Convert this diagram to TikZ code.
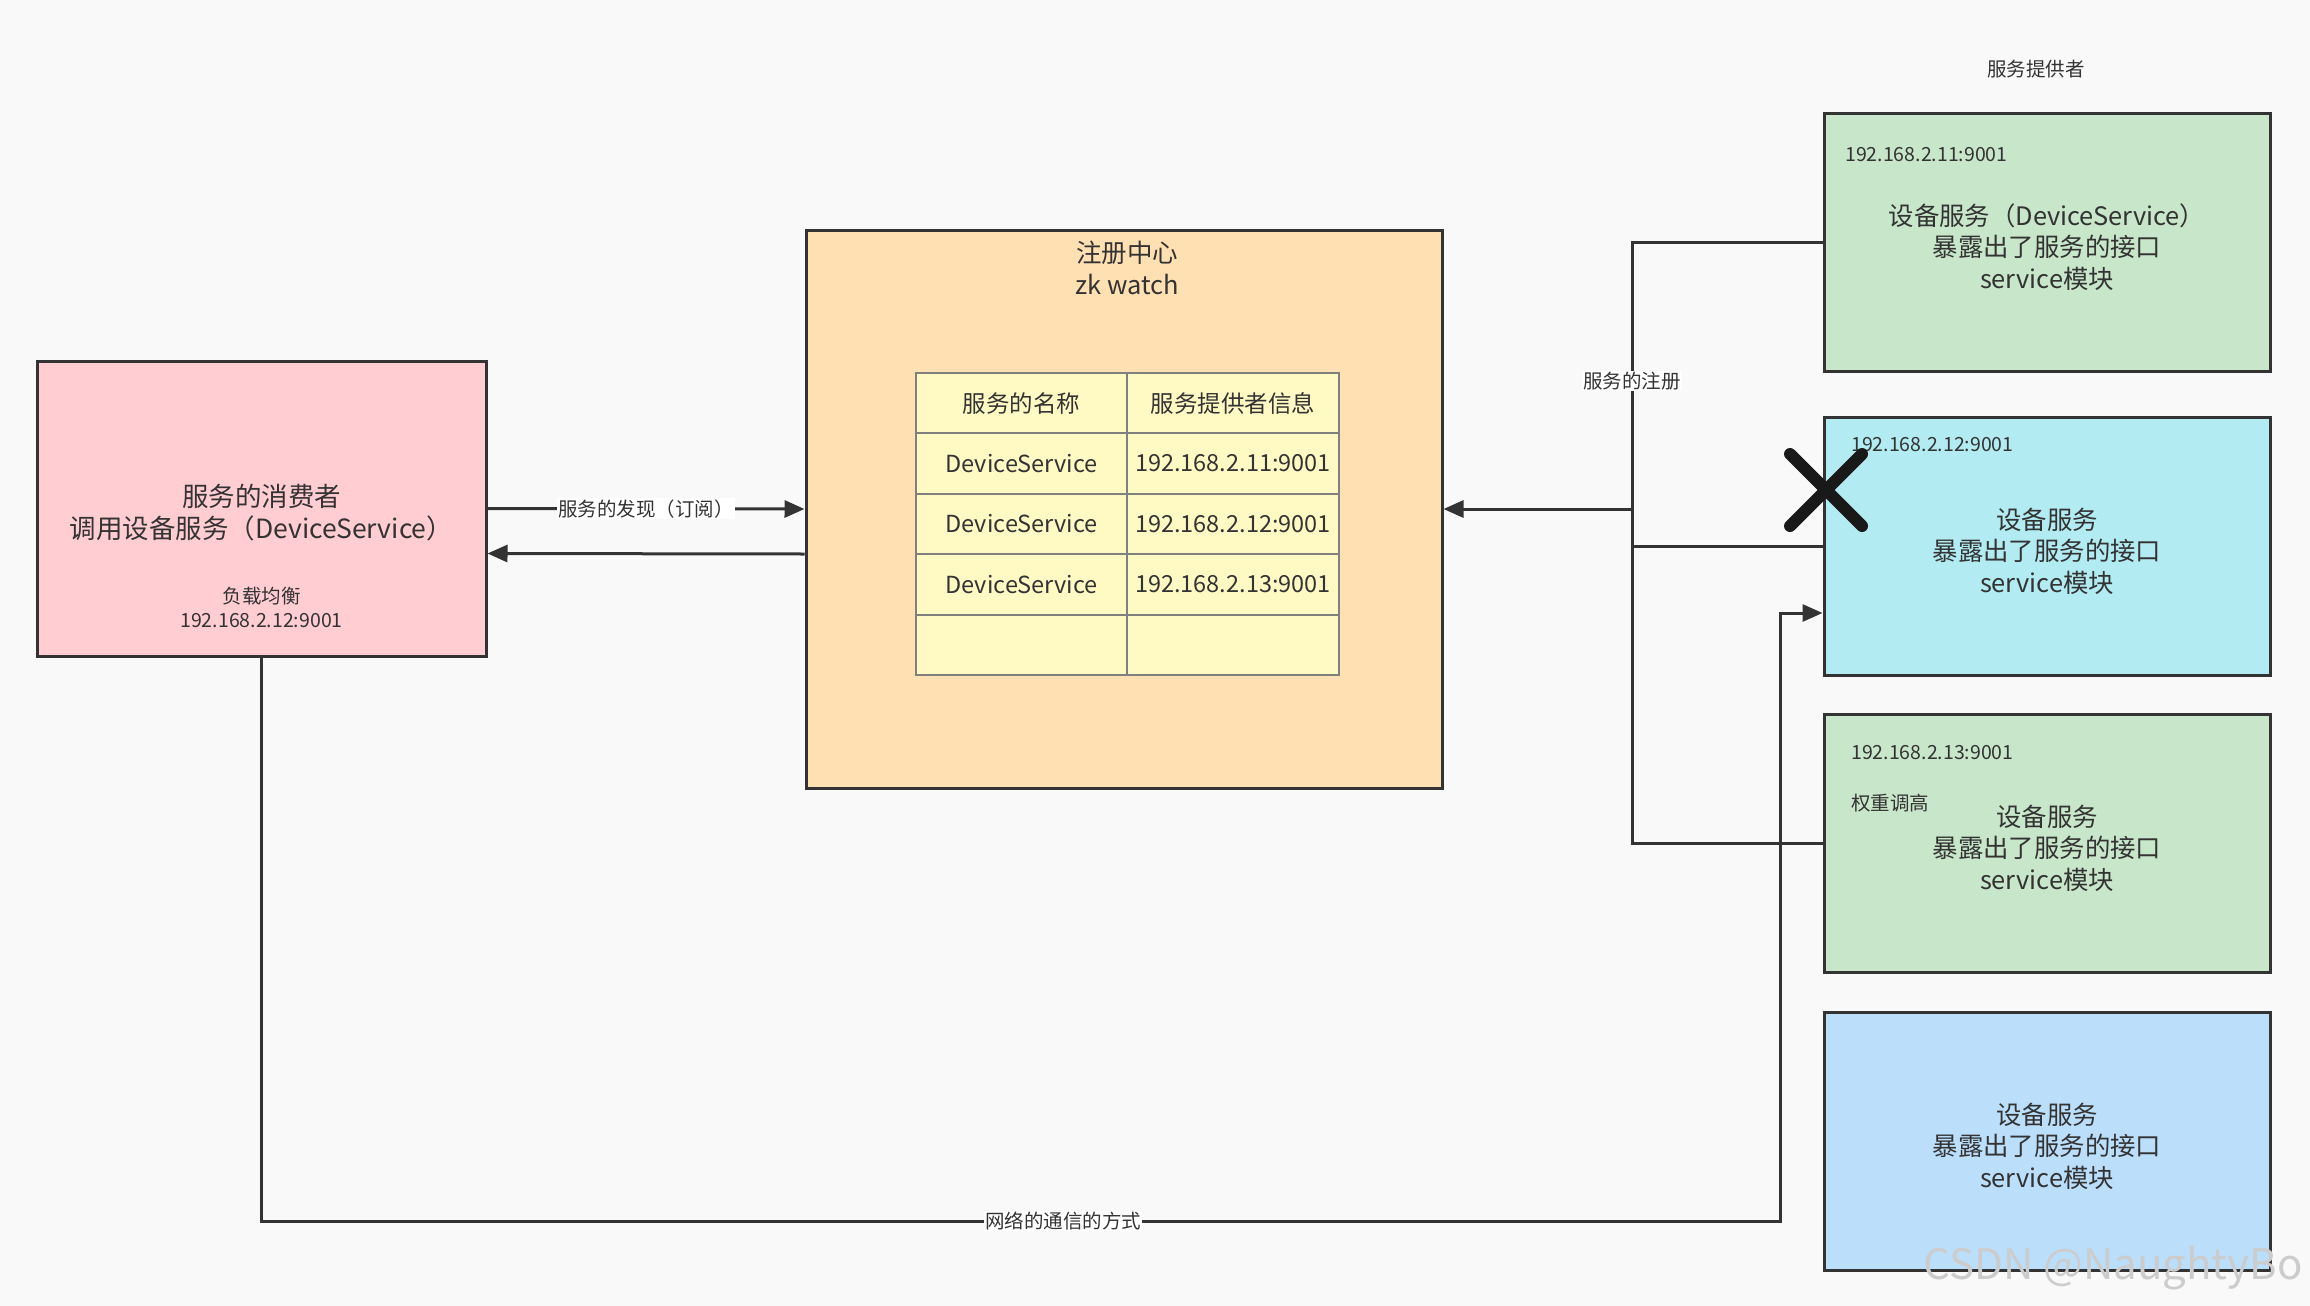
\documentclass[tikz,border=0pt]{standalone}
\usepackage{fontspec}
\setmainfont{Noto Sans CJK SC}
\usepackage{tikz}
\usetikzlibrary{arrows.meta}
\definecolor{pagebg}{HTML}{F9F9F9}
\definecolor{linegray}{HTML}{333333}
\definecolor{cellgray}{HTML}{808080}
\definecolor{consumerpink}{HTML}{FFCDD2}
\definecolor{registryorange}{HTML}{FFE0B2}
\definecolor{tableyellow}{HTML}{FFF9C4}
\definecolor{providergreen}{HTML}{C8E6C9}
\definecolor{providercyan}{HTML}{B2EBF2}
\definecolor{providerblue}{HTML}{BBDEFB}
\newcommand\boxfont{\fontsize{26.5}{31.5}\selectfont}
\newcommand\providerfont{\fontsize{25.4}{31.5}\selectfont}
\newcommand\titlefont{\fontsize{25.5}{32}\selectfont}
\newcommand\cellfont{\fontsize{23.5}{28}\selectfont}
\newcommand\notefont{\fontsize{19.5}{24}\selectfont}
\tikzset{
  box/.style={draw=linegray, line width=3, inner sep=0},
  provider/.style={box, minimum width=446, minimum height=258},
  boxtext/.style={align=center, text=linegray, font=\boxfont, inner sep=0},
  cell/.style={draw=cellgray, line width=2, fill=tableyellow, minimum width=211.5, minimum height=60.4, inner sep=0, text=linegray, font=\cellfont},
  note/.style={align=center, text=linegray, font=\notefont, inner sep=1},
  tag/.style={fill=white, text=linegray, font=\notefont, inner sep=1},
  wire/.style={draw=linegray, line width=3},
  flow/.style={wire, -{Triangle[length=20, width=17]}},
  crossmark/.style={draw=black!90, line width=12, line cap=round}
}

\begin{document}
\begin{tikzpicture}[x=1pt, y=-1pt]
\path[use as bounding box, fill=pagebg] (0,0) rectangle (2310,1306);
\node[box, fill=consumerpink, minimum width=449, minimum height=295] (consumer) at (261.5,508.5) {};
\node[boxtext] (consumertext) at ([yshift=-4]consumer.center) {服务的消费者\\调用设备服务（DeviceService）};
\node[note] (balance) at (261.5,607) {负载均衡\\192.168.2.12:9001};
\node[box, fill=registryorange, minimum width=636, minimum height=558] (registry) at (1124,509) {};
\node[note, font=\titlefont] (regtitle) at (1127,268) {注册中心\\zk watch};
\foreach \svc/\addr [count=\r from 0] in {{服务的名称}/{服务提供者信息}, DeviceService/192.168.2.11:9001, DeviceService/192.168.2.12:9001, DeviceService/192.168.2.13:9001, {}/{}} {
  \node[cell] (name\r) at (1021.5,{403.2+60.4*\r}) {\svc};
  \node[cell] (info\r) at (1233,{403.2+60.4*\r}) {\addr};
}
\node[note] (providers) at (2036,69) {服务提供者};
\node[provider, fill=providergreen] (provider1) at (2047,242) {};
\node[provider, fill=providercyan] (provider2) at (2047,546) {};
\node[provider, fill=providergreen] (provider3) at (2047,843) {};
\node[provider, fill=providerblue] (provider4) at (2047,1141) {};
\node[boxtext, font=\providerfont] (provider1text) at ([yshift=-5]provider1.center) {设备服务（DeviceService）\\暴露出了服务的接口\\service模块};
\node[boxtext, font=\providerfont] (provider2text) at ([yshift=-5]provider2.center) {设备服务\\暴露出了服务的接口\\service模块};
\node[boxtext, font=\providerfont] (provider3text) at ([yshift=-5]provider3.center) {设备服务\\暴露出了服务的接口\\service模块};
\node[boxtext, font=\providerfont] (provider4text) at ([yshift=-5]provider4.center) {设备服务\\暴露出了服务的接口\\service模块};
\node[note, anchor=west] (ip1) at (1844,155) {192.168.2.11:9001};
\node[note, anchor=west] (ip2) at (1850,445) {192.168.2.12:9001};
\node[note, anchor=west] (ip3) at (1850,753) {192.168.2.13:9001};
\node[note, anchor=west] (weight) at (1850,803) {权重调高};
\draw[flow] (consumer.east) -- node[tag] {服务的发现（订阅）} (registry.west);
\draw[flow] ([yshift=-45]registry.west) -- ([yshift=-45]consumer.east);
\coordinate (regjoin) at (1632,509);
\draw[wire] (provider1.west) -| node[tag, pos=0.76] {服务的注册} (regjoin);
\draw[wire] (provider2.west) -| (regjoin);
\draw[wire] (provider3.west) -| (regjoin);
\draw[flow] (regjoin) -- (registry.east);
\coordinate (netturn) at (1780,1221);
\draw[flow] (consumer.south) |- node[tag, pos=0.764] {网络的通信的方式} (netturn) |- ([yshift=-67]provider2.west);
\coordinate (cross) at (1826,490);
\draw[crossmark] ([shift={(-36,-36)}]cross) -- ([shift={(36,36)}]cross);
\draw[crossmark] ([shift={(-36,36)}]cross) -- ([shift={(36,-36)}]cross);
\node[text=gray!40, font=\fontsize{42}{42}\selectfont, anchor=east] (csdn) at (2306,1268) {CSDN @NaughtyBo};
\end{tikzpicture}
\end{document}
